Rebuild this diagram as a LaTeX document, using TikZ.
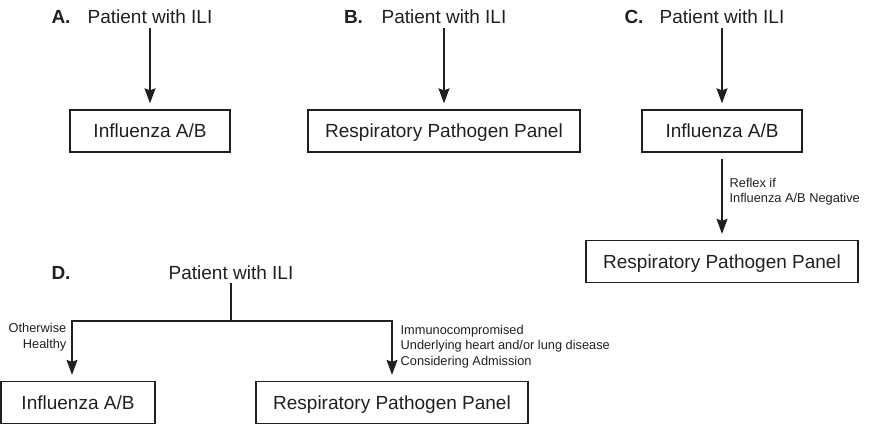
\documentclass[tikz,border=0pt]{standalone}
\usepackage{fontspec}
\setmainfont{Liberation Sans}
\usetikzlibrary{arrows.meta}
\definecolor{ink}{RGB}{35,31,32}

\begin{document}
\begin{tikzpicture}[x=1pt, y=-1pt, line width=1.3pt, color=ink,
		big/.style={font=\fontsize{19}{23}\selectfont},
		small/.style={font=\fontsize{12.8}{15.5}\selectfont, align=left, inner sep=0pt},
		letter/.style={font=\fontsize{19}{23}\selectfont\bfseries, anchor=base},
		patient/.style={big, anchor=base, inner sep=3pt},
		testbox/.style={big, draw, minimum height=42pt, inner sep=0pt, text height=13.6pt, text depth=0pt},
		arr/.style={-{Stealth[length=15pt, width=11pt, inset=2pt]}, shorten >=6pt}]
			%%%%% START %%%%%
			\useasboundingbox (0, 0) rectangle (880, 430);
			
			% A
			\node[letter] (letA) at (61, 24) {A.};
			\node[patient] (patA) at (150, 24) {Patient with ILI};
			\node[testbox, minimum width=160pt] (boxA) at (150, 131) {Influenza A/B};
			\draw[arr] (patA) -- (boxA);
			
			% B
			\node[letter] (letB) at (353.5, 24) {B.};
			\node[patient] (patB) at (444, 24) {Patient with ILI};
			\node[testbox, minimum width=272pt] (boxB) at (444, 131) {Respiratory Pathogen Panel};
			\draw[arr] (patB) -- (boxB);
			
			% C
			\node[letter] (letC) at (634, 24) {C.};
			\node[patient] (patC) at (722, 24) {Patient with ILI};
			\node[testbox, minimum width=160pt] (boxC) at (722, 131) {Influenza A/B};
			\node[testbox, minimum width=272pt] (rppC) at (722, 261.5) {Respiratory Pathogen Panel};
			\draw[arr] (patC) -- (boxC);
			\draw[arr, shorten <=6pt] (boxC) -- (rppC);
			\node[small, anchor=base west] (noteC) at (729, 203) {Reflex if\\Influenza A/B Negative};
			
			% D
			\node[letter] (letD) at (61, 279) {D.};
			\node[patient] (patD) at (231, 279) {Patient with ILI};
			\coordinate (splitD) at (231, 321);
			\coordinate (leftD) at (72, 321);
			\node[testbox, minimum width=154pt] (fluD) at (78, 402.5) {Influenza A/B};
			\node[testbox, minimum width=272pt] (rppD) at (392, 402.5) {Respiratory Pathogen Panel};
			\draw (patD) -- (splitD);
			\draw[arr] (splitD) -- (leftD) -- (leftD |- fluD.north);
			\draw[arr] (splitD) -| (rppD);
			\node[small, align=right, anchor=base east] (noteDl) at (67, 348) {Otherwise\\Healthy};
			\node[small, anchor=base west] (noteDr) at (400, 365) {Immunocompromised\\Underlying heart and/or lung disease\\Considering Admission};
			%%%%% END %%%%%
\end{tikzpicture}
\end{document}
